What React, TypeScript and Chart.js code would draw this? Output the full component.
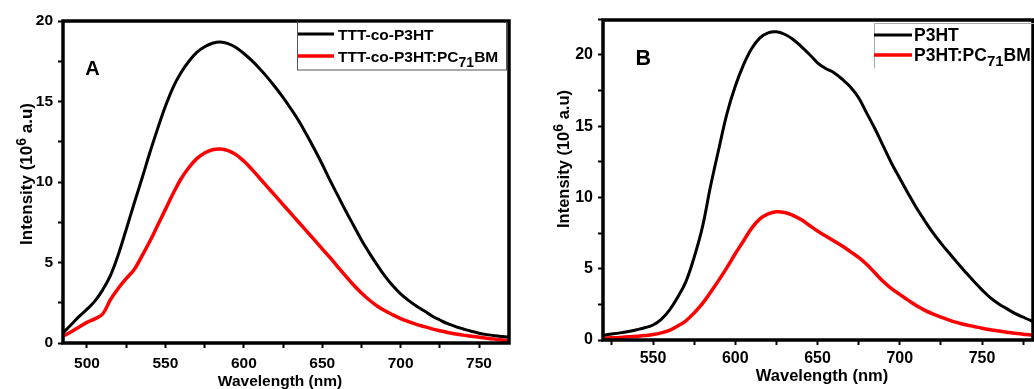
import React, { useEffect, useRef } from "react";
import { Chart, registerables } from "chart.js";

Chart.register(...registerables);

const FONT = "'Liberation Sans', Arial, Helvetica, sans-serif";

// ---------------- Panel A data ----------------
const A_WAVELENGTH = [
  485, 490, 495, 500, 505, 510, 515, 520, 525, 530, 535, 540, 545, 550, 555, 560, 565, 570, 575, 580,
  585, 590, 595, 600, 605, 610, 615, 620, 625, 630, 635, 640, 645, 650, 655, 660, 665, 670, 675, 680,
  685, 690, 695, 700, 705, 710, 715, 720, 725, 730, 735, 740, 745, 750, 755, 760, 765, 770,
];
const A_TTT_CO_P3HT = [
  0.65, 1.15, 1.65, 2.1, 2.6, 3.3, 4.2, 5.5, 7.05, 8.65, 10.2, 11.8, 13.3, 14.7, 15.9, 16.8, 17.5, 18.05, 18.4, 18.62,
  18.7, 18.6, 18.35, 17.98, 17.55, 17.05, 16.5, 15.9, 15.25, 14.55, 13.8, 12.95, 12.05, 11.1, 10.1, 9.15, 8.2, 7.3, 6.4, 5.6,
  4.85, 4.15, 3.55, 3.05, 2.65, 2.3, 2.0, 1.68, 1.43, 1.2, 1.02, 0.87, 0.73, 0.61, 0.52, 0.45, 0.4, 0.36,
];
const A_TTT_CO_P3HT_PCBM = [
  0.45, 0.7, 1.0, 1.28, 1.5, 1.8, 2.7, 3.4, 4.0, 4.55, 5.4, 6.3, 7.3, 8.3, 9.3, 10.2, 10.9, 11.45, 11.8, 12.0,
  12.05, 11.95, 11.7, 11.3, 10.8, 10.25, 9.7, 9.15, 8.6, 8.05, 7.5, 6.95, 6.4, 5.85, 5.3, 4.72, 4.15, 3.6, 3.1, 2.67,
  2.3, 2.0, 1.75, 1.52, 1.33, 1.16, 1.02, 0.88, 0.76, 0.65, 0.56, 0.49, 0.42, 0.36, 0.3, 0.24, 0.18, 0.14,
];
const A_X_TICKS = [500, 525, 550, 575, 600, 625, 650, 675, 700, 725, 750];
const A_X_LABELS = [500, 550, 600, 650, 700, 750];
const A_Y_TICKS = [0, 2.5, 5, 7.5, 10, 12.5, 15, 17.5, 20];
const A_Y_LABELS = [0, 5, 10, 15, 20];

// ---------------- Panel B data ----------------
const B_WAVELENGTH = [
  520, 525, 530, 535, 540, 545, 550, 555, 560, 565, 570, 575, 580, 585, 590, 595, 600, 605, 610, 615,
  620, 625, 630, 635, 640, 645, 650, 655, 660, 665, 670, 675, 680, 685, 690, 695, 700, 705, 710, 715,
  720, 725, 730, 735, 740, 745, 750, 755, 760, 765, 770, 775, 780, 785,
];
const B_P3HT = [
  0.35, 0.42, 0.5, 0.6, 0.72, 0.86, 1.05, 1.45, 2.1, 3.0, 4.1, 5.8, 7.9, 10.8, 13.4, 15.9, 17.8, 19.3, 20.45, 21.2,
  21.55, 21.62, 21.45, 21.1, 20.6, 20.05, 19.45, 19.05, 18.75, 18.3, 17.75, 17.0, 15.9, 14.8, 13.6, 12.4, 11.35, 10.3, 9.3, 8.4,
  7.55, 6.8, 6.1, 5.42, 4.76, 4.12, 3.52, 2.98, 2.55, 2.2, 1.87, 1.6, 1.35, 1.15,
];
const B_P3HT_PCBM = [
  0.12, 0.15, 0.18, 0.22, 0.26, 0.31, 0.38, 0.5, 0.68, 0.98, 1.35, 1.9, 2.55, 3.35, 4.2, 5.1, 6.05, 6.95, 7.85, 8.5,
  8.85, 9.0, 8.95, 8.75, 8.45, 8.05, 7.65, 7.3, 6.95, 6.6, 6.2, 5.8, 5.3, 4.7, 4.1, 3.6, 3.2, 2.8, 2.42, 2.1,
  1.83, 1.6, 1.4, 1.22, 1.07, 0.95, 0.83, 0.72, 0.63, 0.55, 0.47, 0.41, 0.35, 0.3,
];
const B_X_TICKS = [525, 550, 575, 600, 625, 650, 675, 700, 725, 750, 775];
const B_X_LABELS = [550, 600, 650, 700, 750];
const B_Y_TICKS = [0, 2.5, 5, 7.5, 10, 12.5, 15, 17.5, 20, 22.5];
const B_Y_LABELS = [0, 5, 10, 15, 20];

const Y_TITLE = "Intensity (10\u2076 a.u)";
const X_TITLE = "Wavelength (nm)";

// ---------------- rich text helpers ----------------
const SUB: Record<string, string> = {
  "\u2080": "0", "\u2081": "1", "\u2082": "2", "\u2083": "3", "\u2084": "4",
  "\u2085": "5", "\u2086": "6", "\u2087": "7", "\u2088": "8", "\u2089": "9",
};
const SUP: Record<string, string> = {
  "\u2070": "0", "\u00b9": "1", "\u00b2": "2", "\u00b3": "3", "\u2074": "4",
  "\u2075": "5", "\u2076": "6", "\u2077": "7", "\u2078": "8", "\u2079": "9",
};

type Seg = { t: string; kind: "n" | "sub" | "sup" };
function segments(text: string): Seg[] {
  const out: Seg[] = [];
  for (const ch of text) {
    let kind: Seg["kind"] = "n";
    let c = ch;
    if (SUB[ch]) { kind = "sub"; c = SUB[ch]; }
    else if (SUP[ch]) { kind = "sup"; c = SUP[ch]; }
    const last = out[out.length - 1];
    if (last && last.kind === kind) last.t += c;
    else out.push({ t: c, kind });
  }
  return out;
}

function drawRich(
  ctx: CanvasRenderingContext2D, text: string, x: number, baseline: number,
  size: number, small: number, subDrop: number, supRise: number, align: "left" | "center"
) {
  const segs = segments(text);
  const fontFor = (k: Seg["kind"]) => `bold ${k === "n" ? size : small}px ${FONT}`;
  let total = 0;
  const widths = segs.map((s) => {
    ctx.font = fontFor(s.kind);
    const w = ctx.measureText(s.t).width;
    total += w;
    return w;
  });
  let cx = align === "center" ? x - total / 2 : x;
  ctx.textAlign = "left";
  ctx.textBaseline = "alphabetic";
  segs.forEach((s, i) => {
    ctx.font = fontFor(s.kind);
    const dy = s.kind === "sub" ? subDrop : s.kind === "sup" ? -supRise : 0;
    ctx.fillText(s.t, cx, baseline + dy);
    cx += widths[i];
  });
}

type PanelCfg = {
  left: number; width: number; height: number;
  padTop: number; padRight: number; yWidth: number; xHeight: number;
  xMin: number; xMax: number; yMax: number;
  xTicks: number[]; xLabels: number[]; yTicks: number[]; yLabels: number[];
  tickSize: number; xPad: number; yPad: number;
  wl: number[]; s1: number[]; s2: number[]; names: [string, string];
  letter: { text: string; x: number; base: number; size: number };
  yTitle: { x: number; y: number; size: number; sup: number; rise: number };
  xTitle: { x: number; base: number; size: number };
  legend: {
    box: [number, number, number, number]; boxColor: string; fullBox: boolean;
    lx0: number; lx1: number; tx: number; rows: [number, number];
    size: number; sub: number; drop: number;
  };
};

function makeOverlay(cfg: PanelCfg) {
  return {
    id: "overlay" + cfg.letter.text,
    afterDatasetsDraw(chart: Chart) {
      const ctx = chart.ctx;
      const ca = chart.chartArea;
      ctx.save();
      // frame
      ctx.strokeStyle = "#000";
      ctx.lineWidth = 3.5;
      ctx.strokeRect(ca.left, ca.top, ca.right - ca.left, ca.bottom - ca.top);

      ctx.fillStyle = "#000";
      // panel letter
      ctx.font = `bold ${cfg.letter.size}px ${FONT}`;
      ctx.textAlign = "center";
      ctx.textBaseline = "alphabetic";
      ctx.fillText(cfg.letter.text, cfg.letter.x, cfg.letter.base);

      // legend box
      const L = cfg.legend;
      const [bx, by, bw, bh] = L.box;
      ctx.strokeStyle = L.boxColor;
      ctx.lineWidth = 1;
      if (L.fullBox) {
        ctx.strokeRect(bx, by, bw, bh);
      } else {
        ctx.beginPath();
        ctx.moveTo(bx, by + bh);
        ctx.lineTo(bx, by);
        ctx.lineTo(bx + bw, by);
        ctx.stroke();
      }
      chart.data.datasets.forEach((ds: any, i: number) => {
        const y = L.rows[i];
        ctx.strokeStyle = ds.borderColor;
        ctx.lineWidth = ds.borderWidth;
        ctx.beginPath();
        ctx.moveTo(L.lx0, y);
        ctx.lineTo(L.lx1, y);
        ctx.stroke();
        ctx.fillStyle = "#000";
        drawRich(ctx, ds.label, L.tx, y + 0.358 * L.size, L.size, L.sub, L.drop, 0, "left");
      });

      // x title
      ctx.fillStyle = "#000";
      drawRich(ctx, X_TITLE, cfg.xTitle.x, cfg.xTitle.base, cfg.xTitle.size, cfg.xTitle.size, 0, 0, "center");

      // y title (rotated)
      const T = cfg.yTitle;
      ctx.save();
      ctx.translate(T.x, T.y);
      ctx.rotate(-Math.PI / 2);
      drawRich(ctx, Y_TITLE, 0, 0.358 * T.size, T.size, T.sup, 0, T.rise, "center");
      ctx.restore();

      ctx.restore();
    },
  };
}

function Panel({ cfg }: { cfg: PanelCfg }) {
  const ref = useRef<HTMLCanvasElement>(null);
  useEffect(() => {
    const tickFont = { family: FONT, size: cfg.tickSize, weight: "bold" as const };
    const chart = new Chart(ref.current as HTMLCanvasElement, {
      type: "line",
      data: {
        datasets: [
          {
            label: cfg.names[0],
            data: cfg.wl.map((x, i) => ({ x, y: cfg.s1[i] })),
            borderColor: "#000000",
            borderWidth: 3,
            pointRadius: 0,
            fill: false,
            tension: 0.4,
          },
          {
            label: cfg.names[1],
            data: cfg.wl.map((x, i) => ({ x, y: cfg.s2[i] })),
            borderColor: "#ff0000",
            borderWidth: 3.5,
            pointRadius: 0,
            fill: false,
            tension: 0.4,
          },
        ],
      },
      options: {
        responsive: false,
        animation: false,
        devicePixelRatio: 1,
        layout: { padding: { left: 0, top: cfg.padTop, right: cfg.padRight, bottom: 0 } },
        plugins: { legend: { display: false }, tooltip: { enabled: false }, title: { display: false } },
        scales: {
          x: {
            type: "linear",
            min: cfg.xMin,
            max: cfg.xMax,
            afterFit: (s: any) => { s.height = cfg.xHeight; },
            afterBuildTicks: (s: any) => { s.ticks = cfg.xTicks.map((v) => ({ value: v })); },
            ticks: {
              autoSkip: false,
              maxRotation: 0,
              color: "#000",
              font: tickFont,
              padding: cfg.xPad,
              callback: (v: any) => (cfg.xLabels.includes(Number(v)) ? String(v) : ""),
            },
            grid: { drawOnChartArea: false, drawTicks: true, tickLength: 5, tickWidth: 2, tickColor: "#000" },
            border: { display: false },
          },
          y: {
            type: "linear",
            min: 0,
            max: cfg.yMax,
            afterFit: (s: any) => { s.width = cfg.yWidth; },
            afterBuildTicks: (s: any) => { s.ticks = cfg.yTicks.map((v) => ({ value: v })); },
            ticks: {
              autoSkip: false,
              color: "#000",
              font: tickFont,
              padding: cfg.yPad,
              callback: (v: any) => (cfg.yLabels.includes(Number(v)) ? String(v) : ""),
            },
            grid: { drawOnChartArea: false, drawTicks: true, tickLength: 5, tickWidth: 2, tickColor: "#000" },
            border: { display: false },
          },
        },
      },
      plugins: [makeOverlay(cfg)],
    } as any);
    return () => chart.destroy();
  }, []);
  return (
    <canvas
      ref={ref}
      width={cfg.width}
      height={cfg.height}
      style={{ position: "absolute", left: cfg.left, top: 0, width: cfg.width, height: cfg.height }}
    />
  );
}

const PANEL_A: PanelCfg = {
  left: 0, width: 520, height: 389,
  padTop: 21, padRight: 11, yWidth: 63, xHeight: 46,
  xMin: 484.7, xMax: 769.1, yMax: 20,
  xTicks: A_X_TICKS, xLabels: A_X_LABELS, yTicks: A_Y_TICKS, yLabels: A_Y_LABELS,
  tickSize: 15.5, xPad: 6, yPad: 5,
  wl: A_WAVELENGTH, s1: A_TTT_CO_P3HT, s2: A_TTT_CO_P3HT_PCBM,
  names: ["TTT-co-P3HT", "TTT-co-P3HT:PC\u2087\u2081BM"],
  letter: { text: "A", x: 92.5, base: 75, size: 20 },
  yTitle: { x: 26.4, y: 174, size: 17, sup: 14, rise: 6 },
  xTitle: { x: 280, base: 386, size: 15.5 },
  legend: {
    box: [297.5, 22.5, 209, 47.5], boxColor: "#555", fullBox: true,
    lx0: 298, lx1: 334, tx: 338, rows: [34, 56], size: 15.5, sub: 14, drop: 5,
  },
};

const PANEL_B: PanelCfg = {
  left: 520, width: 514, height: 389,
  padTop: 20, padRight: 1, yWidth: 83, xHeight: 49,
  xMin: 519.6, xMax: 781, yMax: 22.45,
  xTicks: B_X_TICKS, xLabels: B_X_LABELS, yTicks: B_Y_TICKS, yLabels: B_Y_LABELS,
  tickSize: 16, xPad: 4, yPad: 5,
  wl: B_WAVELENGTH, s1: B_P3HT, s2: B_P3HT_PCBM,
  names: ["P3HT", "P3HT:PC\u2087\u2081BM"],
  letter: { text: "B", x: 123.3, base: 65, size: 21.5 },
  yTitle: { x: 43.3, y: 159, size: 16.5, sup: 14, rise: 6 },
  xTitle: { x: 302, base: 381, size: 16.5 },
  legend: {
    box: [354.5, 23.5, 200, 45], boxColor: "#aaa", fullBox: false,
    lx0: 354, lx1: 392, tx: 394, rows: [35, 55], size: 17.5, sub: 15, drop: 5,
  },
};

export default function App() {
  return (
    <div style={{ position: "absolute", left: 0, top: 0, width: 1034, height: 389, background: "#fff", overflow: "hidden" }}>
      <Panel cfg={PANEL_A} />
      <Panel cfg={PANEL_B} />
    </div>
  );
}
